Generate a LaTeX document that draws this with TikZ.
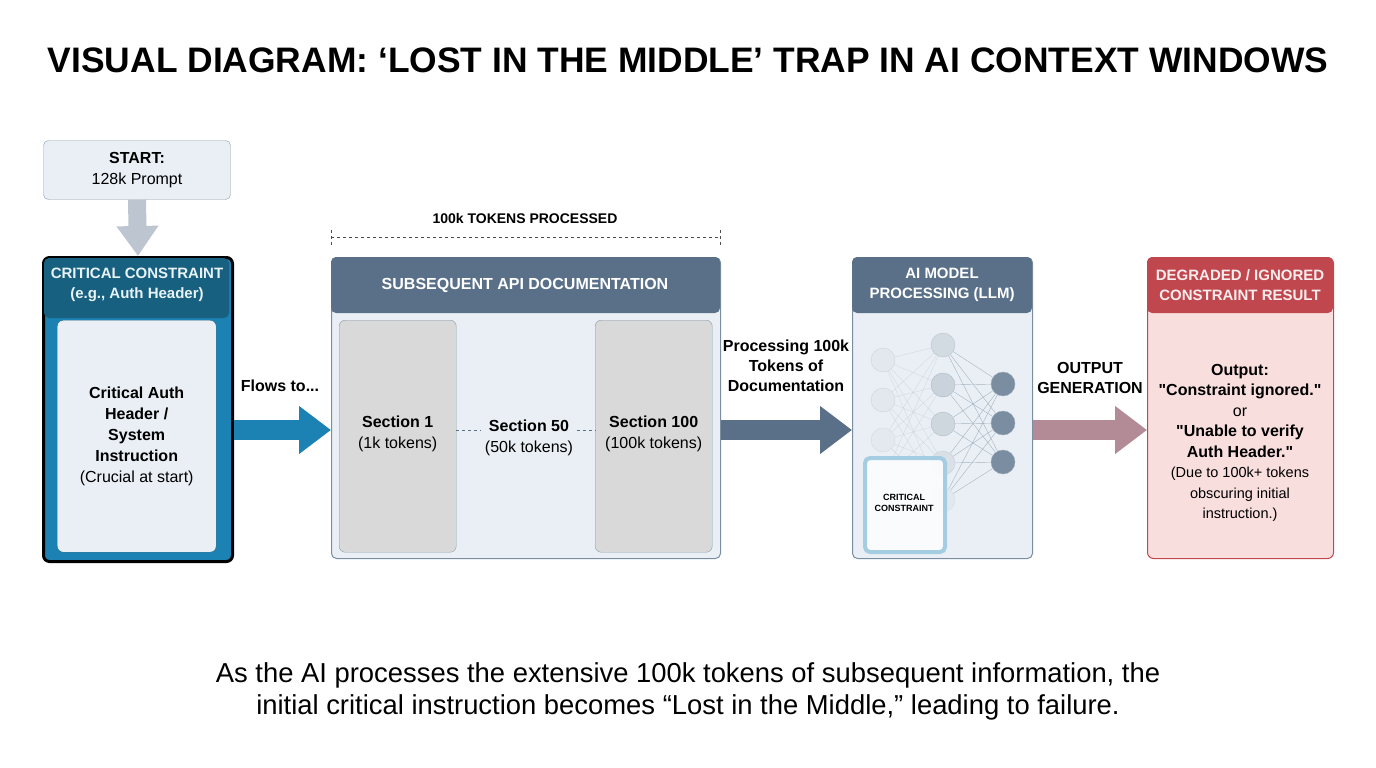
\documentclass[tikz,border=0pt]{standalone}
\usepackage{fontspec}
\setmainfont{Liberation Sans}
\usetikzlibrary{arrows.meta,positioning}
\definecolor{slate}{HTML}{5A7089}
\definecolor{slatebg}{HTML}{E9EFF5}
\definecolor{critblue}{HTML}{1C82B4}
\definecolor{critdark}{HTML}{17607F}
\definecolor{redhead}{HTML}{C1474F}
\definecolor{redbg}{HTML}{F9DEDE}
\newcommand{\dq}{\XeTeXglyph\XeTeXcharglyph"22\relax}
\tikzset{
  panel/.style={draw=slate!80,line width=1pt,rounded corners=5pt,fill=slatebg,anchor=north west,inner sep=0pt},
  section/.style={draw=slate!70,fill=black!15,rounded corners=6pt,anchor=north west,inner sep=0pt,minimum width=117pt,minimum height=232pt},
  lbl/.style={font=\fontsize{16}{20}\selectfont\bfseries,align=center},
  bigarrow/.style={line width=20pt,draw=#1,-{Triangle[width=46pt,length=32pt]}},
  neuron/.style={circle,minimum size=24pt,inner sep=0pt,draw=slate!60,fill=#1},
}
\begin{document}
\begin{tikzpicture}[x=1pt,y=-1pt]
\useasboundingbox (0,0) rectangle (1376,768);
\node[font=\fontsize{35.4}{38}\selectfont\bfseries] (title) at (688,60) {VISUAL DIAGRAM: ‘LOST IN THE MIDDLE’ TRAP IN AI CONTEXT WINDOWS};

% start
\node[draw=slate!70,fill=slatebg,rounded corners=5pt,minimum width=187pt,minimum height=59pt,align=center,font=\fontsize{16}{21}\selectfont] (start) at (137,170) {\textbf{START:}\\128k Prompt};

% critical constraint
\node[draw=black,line width=3pt,fill=critblue,rounded corners=6pt,anchor=north west,minimum width=189pt,minimum height=304pt] (crit) at (42,256) {};
\fill[critdark,rounded corners=5pt] (44,258) rectangle (229,318);
\node[font=\fontsize{15}{20}\selectfont\bfseries,text=white!90!critblue,align=center] (crithead) at (137,285) {CRITICAL CONSTRAINT\\(e.g., Auth Header)};
\node[draw=critdark,fill=slatebg,rounded corners=6pt,anchor=north west,minimum width=159pt,minimum height=232pt,align=center,font=\fontsize{16}{21}\selectfont] (critbody) at (57,320) {\textbf{Critical Auth}\\\textbf{Header /}\\\textbf{System}\\\textbf{Instruction}\\(Crucial at start)};
\draw[line width=18pt,draw=slate!40,-{Triangle[width=40pt,length=30pt]}] (start.south) -- (crit.north);

% api documentation
\node[panel,minimum width=389pt,minimum height=301pt] (api) at (331,257) {};
\fill[slate,rounded corners=5pt] (331,257) rectangle (720,313);
\node[lbl,text=white] (apihead) at (525,285) {SUBSEQUENT API DOCUMENTATION};
\node[section] (sec1) at (339,320) {};
\node[section] (sec100) at (595,320) {};
\node[font=\fontsize{16}{21}\selectfont,align=center] (s1) at ([yshift=2pt]sec1) {\textbf{Section 1}\\(1k tokens)};
\node[font=\fontsize{16}{21}\selectfont,align=center] (s50) at (529,438) {\textbf{Section 50}\\(50k tokens)};
\node[font=\fontsize{16}{21}\selectfont,align=center] (s100) at ([yshift=2pt]sec100) {\textbf{Section 100}\\(100k tokens)};
\draw[dashed,slate] (sec1.east |- 0,430) -- (s50.west |- 0,430);
\draw[dashed,slate] (s50.east |- 0,430) -- (sec100.west |- 0,430);

% span
\coordinate (spanl) at (331,237);
\coordinate (spanr) at (720,237);
\draw[dashed,black!70] (spanl) -- (spanr);
\draw[dashed,black!70] ([yshift=-8pt]spanl) -- ([yshift=8pt]spanl);
\draw[dashed,black!70] ([yshift=-8pt]spanr) -- ([yshift=8pt]spanr);
\node[font=\fontsize{14}{18}\selectfont\bfseries] (spanlbl) at (525,218) {100k TOKENS PROCESSED};

% ai model
\node[panel,minimum width=180pt,minimum height=301pt] (llm) at (852,257) {};
\fill[slate,rounded corners=5pt] (852,257) rectangle (1032,313);
\node[font=\fontsize{15}{20}\selectfont\bfseries,text=white,align=center] (llmhead) at (942,285) {AI MODEL\\PROCESSING (LLM)};
\foreach \y/\o [count=\i] in {360/0.35,400/0.35,440/0.25,480/0.15}
  \node[neuron=slate!25,opacity=\o] (a\i) at (883,\y) {};
\foreach \y/\o [count=\i] in {345/0.5,385/0.7,424/0.6,463/0.35,500/0.15}
  \node[neuron=slate!40,opacity=\o] (b\i) at (943,\y) {};
\foreach \y [count=\i] in {384,423,462}
  \node[neuron=slate!80] (c\i) at (1003,\y) {};
\foreach \i in {1,...,4}
  \foreach \j in {1,...,5}
    \draw[slate!40,opacity=0.5] (a\i) -- (b\j);
\foreach \i in {1,...,5}
  \foreach \j in {1,...,3}
    \draw[slate!70,opacity=0.7] (b\i) -- (c\j);
\node[draw=critblue!40,line width=4pt,fill=white!85!slatebg,fill opacity=0.9,rounded corners=5pt,anchor=north west,minimum width=80pt,minimum height=94pt] (ghost) at (863,456) {};
\node[font=\fontsize{9}{11}\selectfont\bfseries,align=center] (ghostlbl) at (904,503) {CRITICAL\\CONSTRAINT};

% result
\node[draw=redhead,line width=1pt,fill=redbg,rounded corners=6pt,anchor=north west,minimum width=186pt,minimum height=301pt] (res) at (1147,257) {};
\fill[redhead,rounded corners=5pt] (1147,257) rectangle (1333,313);
\node[font=\fontsize{15}{20}\selectfont\bfseries,text=white!90!redhead,align=center] (reshead) at (1240,285) {DEGRADED / IGNORED\\CONSTRAINT RESULT};
\node[font=\fontsize{16}{20.5}\selectfont,align=center] (restext) at (1240,443) {\textbf{Output:}\\\textbf{\dq Constraint ignored.\dq}\\or\\\textbf{\dq Unable to verify}\\\textbf{Auth Header.\dq}\\{\fontsize{14.5}{20}\selectfont(Due to 100k+ tokens}\\{\fontsize{14.5}{20}\selectfont obscuring initial}\\{\fontsize{14.5}{20}\selectfont instruction.)}};

% connectors
\draw[bigarrow=critblue] (crit.east |- 0,430) -- (api.west |- 0,430);
\node[lbl] (flows) at (280,386) {Flows to...};
\draw[bigarrow=slate] (api.east |- 0,430) -- (llm.west |- 0,430);
\node[lbl] (proc) at (786,366) {Processing 100k\\Tokens of\\Documentation};
\draw[bigarrow=redhead!55!slate!70] (llm.east |- 0,430) -- (res.west |- 0,430);
\node[lbl] (outgen) at (1090,378) {OUTPUT\\GENERATION};

% caption
\node[font=\fontsize{27.4}{32}\selectfont,align=center] (caption) at (688,691) {As the AI processes the extensive 100k tokens of subsequent information, the\\initial critical instruction becomes “Lost in the Middle,” leading to failure.};
\end{tikzpicture}
\end{document}
